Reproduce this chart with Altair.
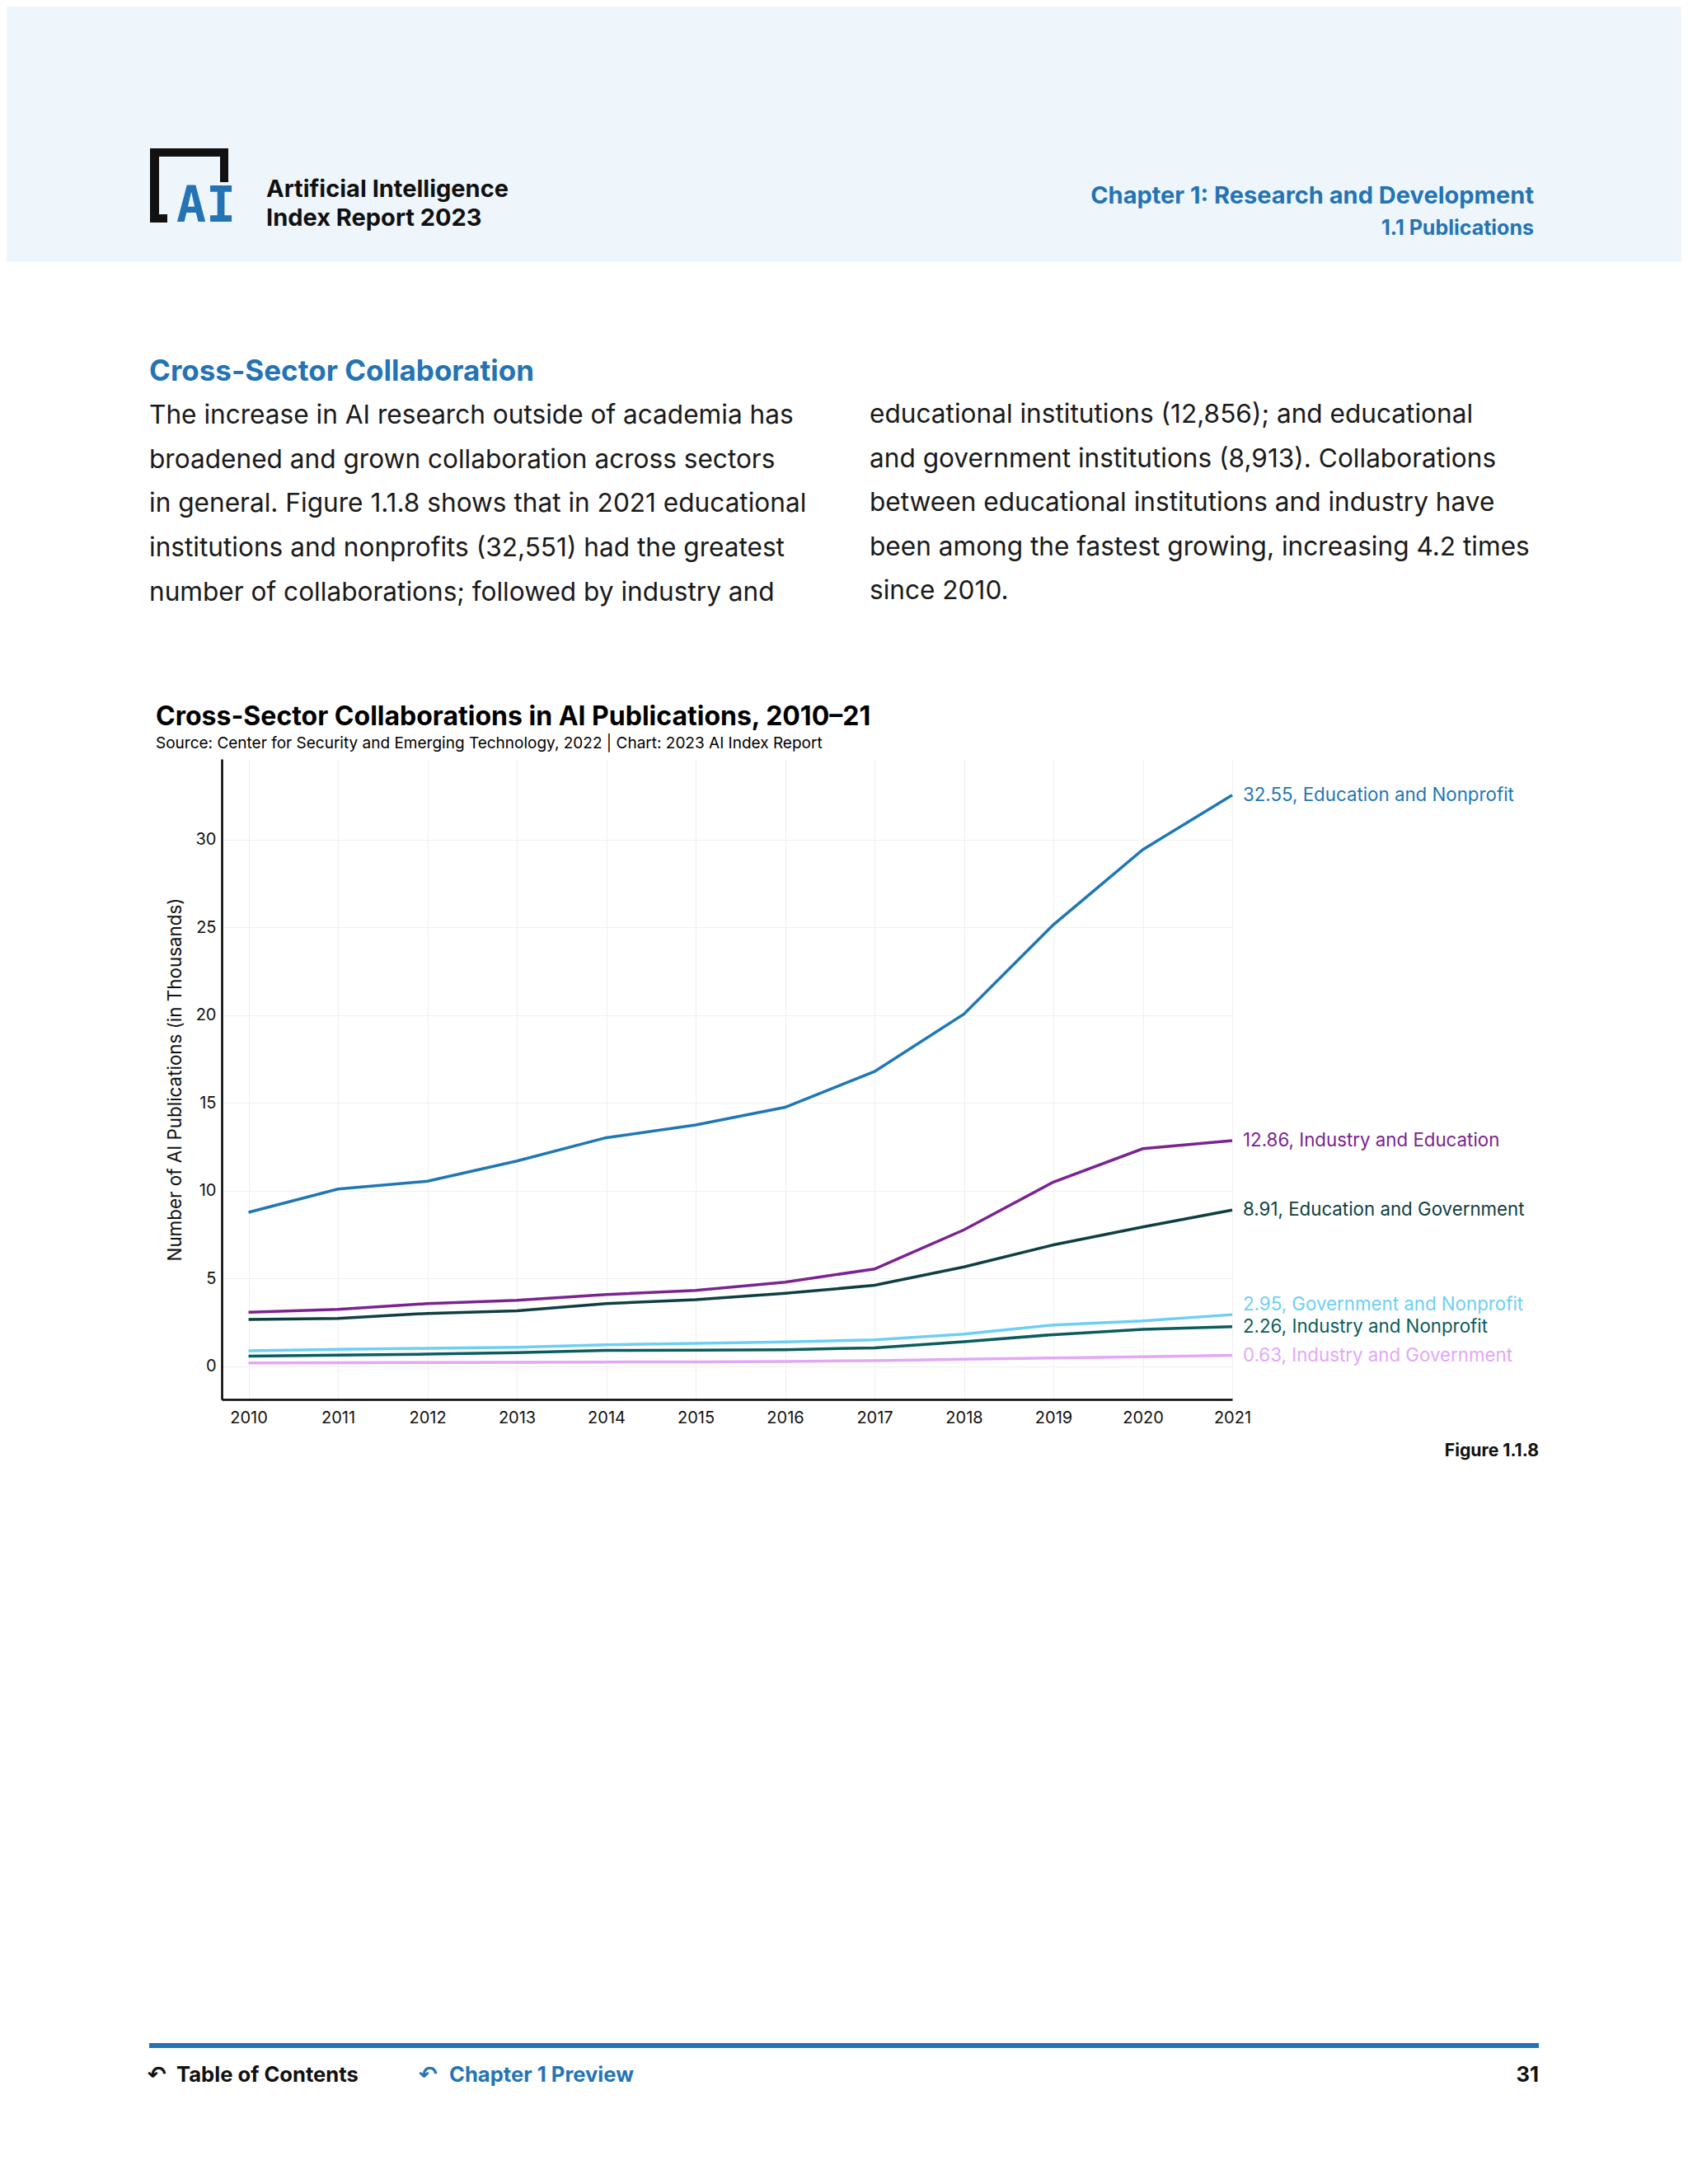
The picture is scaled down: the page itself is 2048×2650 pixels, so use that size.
import altair as alt
import pandas as pd

years = list(range(2010, 2022))
series_names = [
    "Education and Nonprofit",
    "Industry and Education",
    "Education and Government",
    "Government and Nonprofit",
    "Industry and Nonprofit",
    "Industry and Government",
]
edu_nonprofit = [8.78, 10.10, 10.55, 11.70, 13.03, 13.75, 14.76, 16.80, 20.07, 25.16, 29.44, 32.55]
ind_edu = [3.09, 3.25, 3.58, 3.77, 4.09, 4.33, 4.80, 5.55, 7.78, 10.50, 12.40, 12.86]
edu_gov = [2.67, 2.73, 3.02, 3.17, 3.58, 3.80, 4.16, 4.62, 5.67, 6.92, 7.94, 8.91]
gov_nonprofit = [0.89, 0.97, 1.03, 1.09, 1.23, 1.31, 1.39, 1.51, 1.84, 2.36, 2.59, 2.95]
ind_nonprofit = [0.58, 0.64, 0.70, 0.78, 0.91, 0.92, 0.95, 1.06, 1.41, 1.81, 2.11, 2.26]
ind_gov = [0.20, 0.21, 0.22, 0.23, 0.25, 0.26, 0.28, 0.33, 0.41, 0.48, 0.55, 0.63]
series_colors = ["#1F77B4", "#7B2391", "#0F3F41", "#6DCFF6", "#0B5C5C", "#E2A8F6"]
y_ticks = [0, 5, 10, 15, 20, 25, 30]

para_left = [
    "The increase in AI research outside of academia has",
    "broadened and grown collaboration across sectors",
    "in general. Figure 1.1.8 shows that in 2021 educational",
    "institutions and nonprofits (32,551) had the greatest",
    "number of collaborations; followed by industry and",
]
para_right = [
    "educational institutions (12,856); and educational",
    "and government institutions (8,913). Collaborations",
    "between educational institutions and industry have",
    "been among the fastest growing, increasing 4.2 times",
    "since 2010.",
]

all_values = [edu_nonprofit, ind_edu, edu_gov, gov_nonprofit, ind_nonprofit, ind_gov]
rows = []
for name, vals in zip(series_names, all_values):
    for yr, v in zip(years, vals):
        rows.append({"year": yr, "value": v, "series": name})
df = pd.DataFrame(rows)

FONT = "Inter"
BLUE = "#2474B5"
# plot area origin on page
OX, OY = 269, 921
W, H = 1226, 777
PAD_L, PAD_T = OX - 8, OY - 8
TOTAL_W, TOTAL_H = 2032, 2634


def P(x, y):
    return x - OX, y - OY


def text(s, x, y, size, color="#111111", weight="normal", align="left", baseline="middle", angle=0, font=FONT):
    cx, cy = P(x, y)
    return alt.Chart(pd.DataFrame({"t": [s]})).mark_text(
        font=font, fontSize=size, fontWeight=weight, color=color,
        align=align, baseline=baseline, angle=angle,
    ).encode(x=alt.value(cx), y=alt.value(cy), text="t:N")


def rect(x1, y1, x2, y2, color):
    a, b = P(x1, y1)
    c, d = P(x2, y2)
    return alt.Chart(pd.DataFrame({"k": [0]})).mark_rect(color=color).encode(
        x=alt.value(a), x2=alt.value(c), y=alt.value(b), y2=alt.value(d)
    )


xscale = alt.Scale(domain=[2009.7, 2021], nice=False, zero=False)
yscale = alt.Scale(domain=[-1.88, 34.6], nice=False, zero=False)
cscale = alt.Scale(domain=series_names, range=series_colors)

base = alt.Chart(df)
lines = base.mark_line(strokeWidth=3.5).encode(
    x=alt.X("year:Q", scale=xscale, axis=alt.Axis(
        values=years, format="d", title=None, grid=True, gridColor="#F0F0F0",
        domainColor="#000000", domainWidth=2.5, ticks=False, labelFontSize=20,
        labelPadding=12, labelColor="#111111", labelFont=FONT, labelFlush=False)),
    y=alt.Y("value:Q", scale=yscale, axis=alt.Axis(
        values=y_ticks, title=None, grid=True, gridColor="#F0F0F0",
        domainColor="#000000", domainWidth=2.5, ticks=False, labelFontSize=20,
        labelPadding=7, labelColor="#111111", labelFont=FONT)),
    color=alt.Color("series:N", scale=cscale, legend=None),
    detail="series:N",
)

last = base.transform_filter(alt.datum.year == 2021).transform_calculate(
    label="format(datum.value, '.2f') + ', ' + datum.series"
)
labels_main = last.transform_filter(alt.datum.series != "Government and Nonprofit").mark_text(
    align="left", baseline="middle", dx=13, fontSize=22.3, font=FONT
).encode(x=alt.X("year:Q", scale=xscale), y=alt.Y("value:Q", scale=yscale),
         text="label:N", color=alt.Color("series:N", scale=cscale, legend=None))
labels_gn = last.transform_filter(alt.datum.series == "Government and Nonprofit").mark_text(
    align="left", baseline="middle", dx=13, dy=-12, fontSize=22.3, font=FONT
).encode(x=alt.X("year:Q", scale=xscale), y=alt.Y("value:Q", scale=yscale),
         text="label:N", color=alt.Color("series:N", scale=cscale, legend=None))

layers = []
# header band
layers.append(rect(0, 0, 2048, 318, "#EEF6FC"))
# logo
layers.append(rect(182, 180, 277, 190, "#111111"))
layers.append(rect(182, 180, 193, 270, "#111111"))
layers.append(rect(182, 260, 203, 270, "#111111"))
layers.append(rect(267, 180, 277, 221, "#111111"))
layers.append(text("AI", 250, 251, 60, color=BLUE, weight="bold", align="center", font="DejaVu Sans Mono"))
layers.append(text("Artificial Intelligence", 323, 230, 29, weight="bold"))
layers.append(text("Index Report 2023", 323, 265, 29, weight="bold"))
layers.append(text("Chapter 1: Research and Development", 1861, 238, 29, color=BLUE, weight="bold", align="right"))
layers.append(text("1.1 Publications", 1861, 277, 25, color=BLUE, weight="bold", align="right"))
# section
layers.append(text("Cross-Sector Collaboration", 181, 451, 35, color=BLUE, weight="bold"))
for i, s in enumerate(para_left):
    layers.append(text(s, 181, 505 + i * 53.7, 31.6, color="#1A1A1A"))
for i, s in enumerate(para_right):
    layers.append(text(s, 1055, 504 + i * 53.6, 31.6, color="#1A1A1A"))
# chart title
layers.append(text("Cross-Sector Collaborations in AI Publications, 2010\u201321", 189, 870, 32, color="#000000", weight="bold"))
layers.append(text("Source: Center for Security and Emerging Technology, 2022 | Chart: 2023 AI Index Report", 189, 902, 19, color="#000000"))
layers.append(text("Number of AI Publications (in Thousands)", 213, 1310, 22.4, color="#111111", align="center", angle=270))
layers.append(text("Figure 1.1.8", 1867, 1761, 21.2, color="#111111", weight="bold", align="right"))
# footer
layers.append(rect(181, 2479, 1867, 2485, "#2474B5"))
layers.append(text("\u21b6", 179, 2518, 27, color="#111111", weight="bold", font="DejaVu Sans"))
layers.append(text("Table of Contents", 214, 2518, 25.6, color="#111111", weight="bold"))
layers.append(text("\u21b6", 508, 2518, 27, color=BLUE, weight="bold", font="DejaVu Sans"))
layers.append(text("Chapter 1 Preview", 545, 2518, 25.6, color=BLUE, weight="bold"))
layers.append(text("31", 1867, 2518, 25.6, color="#111111", weight="bold", align="right"))

chart = alt.layer(lines, labels_main, labels_gn, *layers).properties(
    width=W, height=H,
    padding={"left": PAD_L, "top": PAD_T, "right": TOTAL_W - PAD_L - W, "bottom": TOTAL_H - PAD_T - H},
    autosize=alt.AutoSizeParams(type="none"),
    background="#FFFFFF",
).configure_view(stroke=None)

chart.save("out.html", embed_options={"renderer": "svg", "actions": False})
